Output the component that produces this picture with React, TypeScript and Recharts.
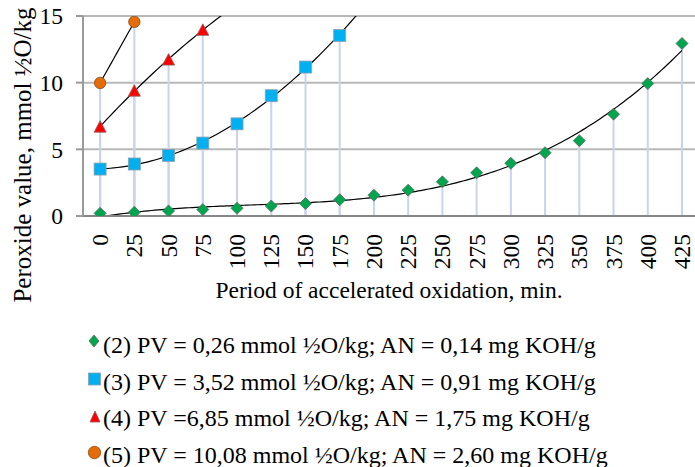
import React from "react";
import {
  ComposedChart,
  Scatter,
  Line,
  XAxis,
  YAxis,
  CartesianGrid,
  ErrorBar,
  Label,
} from "recharts";

const FONT = '"Liberation Serif", "Times New Roman", serif';

// minutes of accelerated oxidation
const minutes = [0, 25, 50, 75, 100, 125, 150, 175, 200, 225, 250, 275, 300, 325, 350, 375, 400, 425];

// peroxide value, mmol 1/2O/kg, per sample
const pv2 = [0.2, 0.28, 0.38, 0.48, 0.58, 0.75, 0.93, 1.22, 1.56, 1.94, 2.56, 3.24, 3.95, 4.75, 5.65, 7.64, 9.93, 12.94];
const pv3 = [3.52, 3.9, 4.54, 5.47, 6.91, 9.02, 11.17, 13.54];
const pv4 = [6.7, 9.4, 11.73, 13.96];
const pv5 = [9.98, 14.56];

const yTicks = [0, 5, 10, 15];

const legendLabels = [
  "(2) PV = 0,26 mmol ½O/kg; AN = 0,14 mg KOH/g",
  "(3) PV = 3,52 mmol ½O/kg; AN = 0,91 mg KOH/g",
  "(4) PV =6,85 mmol ½O/kg; AN = 1,75 mg KOH/g",
  "(5) PV = 10,08 mmol ½O/kg; AN = 2,60 mg KOH/g",
];

const dropColor = "#c8d4ec";

function toPoints(values: number[]) {
  return values.map((v, i) => ({ x: minutes[i], y: v, drop: [v, 0] }));
}

// least squares polynomial, like an Excel trendline
function polyFit(xs: number[], ys: number[], deg: number) {
  const n = deg + 1;
  const A: number[][] = [];
  for (let r = 0; r < n; r++) {
    const row: number[] = [];
    for (let c = 0; c < n; c++) row.push(xs.reduce((s, x) => s + Math.pow(x, r + c), 0));
    row.push(xs.reduce((s, x, i) => s + ys[i] * Math.pow(x, r), 0));
    A.push(row);
  }
  for (let i = 0; i < n; i++) {
    let p = i;
    for (let k = i + 1; k < n; k++) if (Math.abs(A[k][i]) > Math.abs(A[p][i])) p = k;
    [A[i], A[p]] = [A[p], A[i]];
    for (let k = i + 1; k < n; k++) {
      const f = A[k][i] / A[i][i];
      for (let c = i; c <= n; c++) A[k][c] -= f * A[i][c];
    }
  }
  const coef = new Array(n).fill(0);
  for (let i = n - 1; i >= 0; i--) {
    let s = A[i][n];
    for (let c = i + 1; c < n; c++) s -= A[i][c] * coef[c];
    coef[i] = s / A[i][i];
  }
  return coef;
}

function trend(values: number[], deg: number, toX: number) {
  const xs = minutes.slice(0, values.length);
  const coef = polyFit(xs, values, deg);
  const pts: { x: number; y: number }[] = [];
  for (let x = 0; x <= toX + 0.001; x += 2.5) {
    pts.push({ x, y: coef.reduce((s, c, i) => s + c * Math.pow(x, i), 0) });
  }
  return pts;
}

const Diamond = (p: any) => (
  <polygon
    points={`${p.cx},${p.cy - 6} ${p.cx + 6},${p.cy} ${p.cx},${p.cy + 6} ${p.cx - 6},${p.cy}`}
    fill="#00a54f"
    stroke="#5b6b5b"
    strokeWidth={0.8}
  />
);
const Square = (p: any) => (
  <rect x={p.cx - 6} y={p.cy - 6} width={12} height={12} fill="#00b0f0" stroke="#8aa0b0" strokeWidth={0.8} />
);
const Triangle = (p: any) => (
  <polygon
    points={`${p.cx},${p.cy - 6} ${p.cx + 6},${p.cy + 5.5} ${p.cx - 6},${p.cy + 5.5}`}
    fill="#ff0000"
    stroke="#8c6060"
    strokeWidth={0.8}
  />
);
const Circle = (p: any) => (
  <circle cx={p.cx} cy={p.cy} r={5.7} fill="#e46c0a" stroke="#8a4a10" strokeWidth={0.8} />
);
const Nothing = () => <g />;

const XTick = ({ x, y, payload }: any) => (
  <text
    x={x}
    y={y + 16}
    transform={`rotate(-90, ${x}, ${y + 16})`}
    textAnchor="end"
    dy="0.34em"
    fontSize={23.5}
    fontFamily={FONT}
    fill="#000"
  >
    {payload.value}
  </text>
);

function LegendBlock() {
  const marks = [
    <polygon key="d" points="94,335 99,341 94,347 89,341" fill="#00a54f" stroke="#5b6b5b" strokeWidth={0.8} />,
    <rect key="s" x={88.5} y={373} width={12} height={12} fill="#00b0f0" stroke="#8aa0b0" strokeWidth={0.8} />,
    <polygon key="t" points="95,411 100,422 90,422" fill="#ff0000" stroke="#8c6060" strokeWidth={0.8} />,
    <circle key="c" cx={94.5} cy={452.5} r={6.2} fill="#e46c0a" stroke="#8a4a10" strokeWidth={0.8} />,
  ];
  const baselines = [353, 389.7, 426.3, 463];
  return (
    <svg width={695} height={147} viewBox="0 320 695 147" style={{ position: "absolute", left: 0, top: 320 }}>
      {marks}
      {legendLabels.map((t, i) => (
        <text key={t} x={103} y={baselines[i]} fontSize={24} fontFamily={FONT} fill="#000">
          {t}
        </text>
      ))}
    </svg>
  );
}

export default function App() {
  const s2 = toPoints(pv2);
  const s3 = toPoints(pv3);
  const s4 = toPoints(pv4);
  const s5 = toPoints(pv5);
  return (
    <div style={{ position: "absolute", left: 0, top: 0, width: 695, height: 467, background: "#fff", fontFamily: FONT }}>
      <ComposedChart width={695} height={320} margin={{ top: 16, right: 0, bottom: 0, left: 0 }}>
        <CartesianGrid vertical={false} stroke="#b8b8b8" strokeWidth={2} />
        <XAxis
          type="number"
          dataKey="x"
          domain={[-12.5, 434.5]}
          ticks={minutes}
          interval={0}
          height={104}
          tickSize={0}
          tickLine={false}
          tick={<XTick />}
          axisLine={{ stroke: "#868686", strokeWidth: 2 }}
        >
          <Label
            content={() => (
              <text x={389} y={298} textAnchor="middle" fontSize={23.5} fontFamily={FONT} fill="#000">
                Period of accelerated oxidation, min.
              </text>
            )}
          />
        </XAxis>
        <YAxis
          type="number"
          dataKey="y"
          domain={[0, 15]}
          ticks={yTicks}
          allowDataOverflow
          width={83}
          tickSize={7}
          tickMargin={13}
          tickLine={{ stroke: "#9a9a9a", strokeWidth: 2 }}
          axisLine={{ stroke: "#9a9a9a", strokeWidth: 2 }}
          tick={{ fill: "#000", fontSize: 23.5, fontFamily: FONT }}
        >
          <Label
            content={() => (
              <text
                x={31}
                y={155}
                transform="rotate(-90, 31, 155)"
                textAnchor="middle"
                fontSize={25}
                fontFamily={FONT}
                fill="#000"
              >
                Peroxide value, mmol ½O/kg
              </text>
            )}
          />
        </YAxis>

        {/* drop lines first so every marker sits on top */}
        {[s2, s3, s4, s5].map((d, i) => (
          <Scatter key={"drop" + i} data={d} shape={<Nothing />} isAnimationActive={false}>
            <ErrorBar dataKey="drop" direction="y" width={0} stroke={dropColor} strokeWidth={2} />
          </Scatter>
        ))}

        <Scatter data={s2} shape={<Diamond />} isAnimationActive={false} />
        <Scatter data={s3} shape={<Square />} isAnimationActive={false} />
        <Scatter data={s4} shape={<Triangle />} isAnimationActive={false} />
        <Scatter data={s5} shape={<Circle />} isAnimationActive={false} />

        <Line data={trend(pv2, 3, 425)} dataKey="y" stroke="#000" strokeWidth={1.2} dot={false} activeDot={false} isAnimationActive={false} />
        <Line data={trend(pv3, 2, 200)} dataKey="y" stroke="#000" strokeWidth={1.2} dot={false} activeDot={false} isAnimationActive={false} />
        <Line data={trend(pv4, 2, 100)} dataKey="y" stroke="#000" strokeWidth={1.2} dot={false} activeDot={false} isAnimationActive={false} />
        <Line data={trend(pv5, 1, 25)} dataKey="y" stroke="#000" strokeWidth={1.2} dot={false} activeDot={false} isAnimationActive={false} />
      </ComposedChart>
      <LegendBlock />
    </div>
  );
}
